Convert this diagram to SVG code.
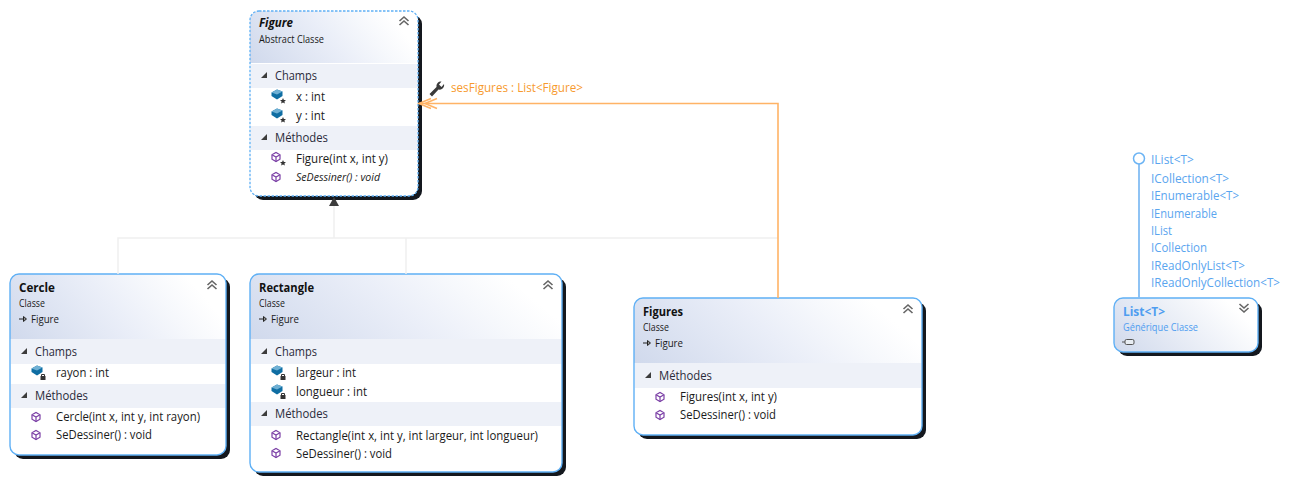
<svg xmlns="http://www.w3.org/2000/svg" width="1297" height="481" viewBox="0 0 1297 481">
<style>
text{font-family:"Open Sans","Noto Sans","Liberation Sans",sans-serif;fill:#1a1a1a;font-size:12px}
.title{font-size:13px;font-weight:700;fill:#111}
.sub{font-size:10px}
.sec{font-size:12.500px;fill:#2a2a3a}
.ital{font-style:italic;font-size:11px}
.blue{fill:#4f9df0}
.iface{fill:#5aa5ef}
.orange{fill:#f79a2e}
.shadow{fill:#14181e}
.body{fill:none;stroke:#5fb0f5;stroke-width:1.400}
.band{fill:#eef1f8}
.gen{fill:none;stroke:#f0f0f0;stroke-width:1.500}
.assoc{fill:none;stroke:#ffb366;stroke-width:1.600}
.tri{fill:#3c3c3c}
.chev{fill:none;stroke:#666;stroke-width:1.600}
.cube{fill:#fff;stroke:#7b3fa6;stroke-width:1.200}
</style>
<defs>
<linearGradient id="hdr" x1="0" y1="1" x2="1" y2="0.75"><stop offset="0" stop-color="#d0d9ec"/><stop offset="0.55" stop-color="#eaeef8"/><stop offset="0.8" stop-color="#f6f8fc"/><stop offset="1" stop-color="#ffffff"/></linearGradient>
<linearGradient id="hdrList" x1="0" y1="1" x2="1" y2="0.6"><stop offset="0" stop-color="#d0d9ec"/><stop offset="1" stop-color="#ffffff"/></linearGradient>
<g id="chevUp"><path class="chev" d="M-4.500 0L0-4L4.500 0M-4.500 4L0 0L4.500 4"/></g>
<g id="chevDown"><path class="chev" d="M-4.500-4L0 0L4.500-4M-4.500 0L0 4L4.500 0"/></g>
<path id="tog" class="tri" d="M0 4L6 4L6-2Z"/>
<g id="field"><path d="M-5.500-2.500L0-5.500L5.500-3.500L5.500 1L0 4.500L-5.500 1Z" fill="#0f6ea3"/><path d="M-5.500-2.500L0-5.500L5.500-3.500L0-.5Z" fill="#6fb0d4"/></g>
<path id="star" fill="#333" d="M0-3L.9-1L3-.9L1.400.5L1.900 2.600L0 1.500L-1.900 2.600L-1.400.5L-3-.9L-.9-1Z"/>
<g id="lock"><rect x="-2.500" y="-1" width="5" height="4" fill="#333"/><path d="M-1.500-1V-2.500H1.500V-1" fill="none" stroke="#333"/></g>
<g id="method"><path class="cube" d="M-4-2.200L0-4.500L4-2.200V2.200L0 4.500L-4 2.200Z"/><path class="cube" d="M-4-2.200L0 0L4-2.200M0 0V4.500" stroke-width="1"/></g>
<g id="inh"><path d="M0 0H7M4.500-2.500L7.500 0L4.500 2.500Z" fill="#fff" stroke="#222"/></g>
</defs>

<g id="Figure">
<rect class="shadow" x="254" y="15" width="168" height="185" rx="9"/>
<rect x="250" y="11" width="168" height="185" rx="9" fill="#fff"/>
<path d="M250 63V20a9 9 0 0 1 9-9H409a9 9 0 0 1 9 9V63Z" fill="url(#hdr)"/>
<rect class="band" x="250.700" y="64" width="167" height="24"/>
<rect class="band" x="250.700" y="126" width="167" height="24"/>
<rect x="250" y="11" width="168" height="185" rx="9" fill="none" stroke="#5fb0f5" stroke-width="1.300" stroke-dasharray="2.500 1.500"/>
<text class="title" x="259" y="27" font-style="italic" textLength="34" lengthAdjust="spacingAndGlyphs">Figure</text>
<text class="sub" x="259" y="43" textLength="65" lengthAdjust="spacingAndGlyphs">Abstract Classe</text>
<use href="#chevUp" x="404" y="21"/>
<use href="#tog" x="261" y="74"/>
<text class="sec" x="275" y="80" textLength="42" lengthAdjust="spacingAndGlyphs">Champs</text>
<use href="#field" x="277" y="95"/><use href="#star" x="283" y="101"/>
<text x="296" y="101" textLength="29" lengthAdjust="spacingAndGlyphs">x : int</text>
<use href="#field" x="277" y="114"/><use href="#star" x="283" y="120"/>
<text x="296" y="120" textLength="29" lengthAdjust="spacingAndGlyphs">y : int</text>
<use href="#tog" x="261" y="136"/>
<text class="sec" x="275" y="142" textLength="53" lengthAdjust="spacingAndGlyphs">Méthodes</text>
<use href="#method" x="276" y="157"/><use href="#star" x="283" y="163"/>
<text x="296" y="163" textLength="92" lengthAdjust="spacingAndGlyphs">Figure(int x, int y)</text>
<use href="#method" x="276" y="177"/>
<text class="ital" x="296" y="181" textLength="84" lengthAdjust="spacingAndGlyphs">SeDessiner() : void</text>
</g>

<g id="Cercle">
<rect class="shadow" x="14" y="278" width="216" height="181" rx="9"/>
<rect x="10" y="274" width="216" height="181" rx="9" fill="#fff"/>
<path d="M10 339V283a9 9 0 0 1 9-9H217a9 9 0 0 1 9 9V339Z" fill="url(#hdr)"/>
<rect class="band" x="10.700" y="339" width="215" height="25"/>
<rect class="band" x="10.700" y="384" width="215" height="24"/>
<rect class="body" x="10" y="274" width="216" height="181" rx="9"/>
<text class="title" x="19" y="292" textLength="36" lengthAdjust="spacingAndGlyphs">Cercle</text>
<text class="sub" x="19" y="307" textLength="26" lengthAdjust="spacingAndGlyphs">Classe</text>
<use href="#inh" x="19" y="319"/>
<text class="sub" x="31" y="323" textLength="28" lengthAdjust="spacingAndGlyphs">Figure</text>
<use href="#chevUp" x="212" y="285"/>
<use href="#tog" x="21" y="350"/>
<text class="sec" x="35" y="356" textLength="42" lengthAdjust="spacingAndGlyphs">Champs</text>
<use href="#field" x="37" y="371"/><use href="#lock" x="43" y="377"/>
<text x="56" y="377" textLength="53" lengthAdjust="spacingAndGlyphs">rayon : int</text>
<use href="#tog" x="21" y="394"/>
<text class="sec" x="35" y="400" textLength="53" lengthAdjust="spacingAndGlyphs">Méthodes</text>
<use href="#method" x="36" y="417"/>
<text x="56" y="421" textLength="144" lengthAdjust="spacingAndGlyphs">Cercle(int x, int y, int rayon)</text>
<use href="#method" x="36" y="435"/>
<text x="56" y="439" textLength="96" lengthAdjust="spacingAndGlyphs">SeDessiner() : void</text>
</g>

<g id="Rectangle">
<rect class="shadow" x="254" y="278" width="312" height="198" rx="9"/>
<rect x="250" y="274" width="312" height="198" rx="9" fill="#fff"/>
<path d="M250 339V283a9 9 0 0 1 9-9H553a9 9 0 0 1 9 9V339Z" fill="url(#hdr)"/>
<rect class="band" x="250.700" y="339" width="311" height="25"/>
<rect class="band" x="250.700" y="402" width="311" height="24"/>
<rect class="body" x="250" y="274" width="312" height="198" rx="9"/>
<text class="title" x="259" y="292" textLength="55" lengthAdjust="spacingAndGlyphs">Rectangle</text>
<text class="sub" x="259" y="307" textLength="26" lengthAdjust="spacingAndGlyphs">Classe</text>
<use href="#inh" x="259" y="319"/>
<text class="sub" x="271" y="323" textLength="28" lengthAdjust="spacingAndGlyphs">Figure</text>
<use href="#chevUp" x="548" y="285"/>
<use href="#tog" x="261" y="350"/>
<text class="sec" x="275" y="356" textLength="42" lengthAdjust="spacingAndGlyphs">Champs</text>
<use href="#field" x="277" y="371"/><use href="#lock" x="283" y="377"/>
<text x="296" y="377" textLength="60" lengthAdjust="spacingAndGlyphs">largeur : int</text>
<use href="#field" x="277" y="390"/><use href="#lock" x="283" y="396"/>
<text x="296" y="396" textLength="71" lengthAdjust="spacingAndGlyphs">longueur : int</text>
<use href="#tog" x="261" y="412"/>
<text class="sec" x="275" y="418" textLength="53" lengthAdjust="spacingAndGlyphs">Méthodes</text>
<use href="#method" x="276" y="435"/>
<text x="296" y="440" textLength="242" lengthAdjust="spacingAndGlyphs">Rectangle(int x, int y, int largeur, int longueur)</text>
<use href="#method" x="276" y="453"/>
<text x="296" y="458" textLength="96" lengthAdjust="spacingAndGlyphs">SeDessiner() : void</text>
</g>

<g id="Figures">
<rect class="shadow" x="638" y="302" width="288" height="137" rx="9"/>
<rect x="634" y="298" width="288" height="137" rx="9" fill="#fff"/>
<path d="M634 363V307a9 9 0 0 1 9-9H913a9 9 0 0 1 9 9V363Z" fill="url(#hdr)"/>
<rect class="band" x="634.700" y="363" width="287" height="25"/>
<rect class="body" x="634" y="298" width="288" height="137" rx="9"/>
<text class="title" x="643" y="316" textLength="40" lengthAdjust="spacingAndGlyphs">Figures</text>
<text class="sub" x="643" y="331" textLength="26" lengthAdjust="spacingAndGlyphs">Classe</text>
<use href="#inh" x="643" y="343"/>
<text class="sub" x="655" y="347" textLength="28" lengthAdjust="spacingAndGlyphs">Figure</text>
<use href="#chevUp" x="908" y="309"/>
<use href="#tog" x="645" y="374"/>
<text class="sec" x="659" y="380" textLength="53" lengthAdjust="spacingAndGlyphs">Méthodes</text>
<use href="#method" x="660" y="397"/>
<text x="680" y="401" textLength="97" lengthAdjust="spacingAndGlyphs">Figures(int x, int y)</text>
<use href="#method" x="660" y="415"/>
<text x="680" y="419" textLength="96" lengthAdjust="spacingAndGlyphs">SeDessiner() : void</text>
</g>

<g id="List">
<rect class="shadow" x="1118" y="302" width="144" height="54" rx="9"/>
<rect x="1114" y="298" width="144" height="54" rx="9" fill="url(#hdrList)" stroke="#5fb0f5" stroke-width="1.400"/>
<text class="title blue" x="1123" y="316" textLength="42" lengthAdjust="spacingAndGlyphs">List&lt;T&gt;</text>
<text class="sub blue" x="1123" y="331" textLength="75" lengthAdjust="spacingAndGlyphs">Générique Classe</text>
<use href="#chevDown" x="1244" y="308"/>
<g id="List-icon"><rect x="1125" y="339.500" width="9" height="5" rx="1.500" fill="#e8edf3" stroke="#555"/><path d="M1125 342H1122" stroke="#555"/></g>
</g>
<g id="List-interfaces">
<text class="iface" x="1151" y="164" textLength="43" lengthAdjust="spacingAndGlyphs">IList&lt;T&gt;</text>
<text class="iface" x="1151" y="183" textLength="78" lengthAdjust="spacingAndGlyphs">ICollection&lt;T&gt;</text>
<text class="iface" x="1151" y="200" textLength="88" lengthAdjust="spacingAndGlyphs">IEnumerable&lt;T&gt;</text>
<text class="iface" x="1151" y="218" textLength="66" lengthAdjust="spacingAndGlyphs">IEnumerable</text>
<text class="iface" x="1151" y="235" textLength="21" lengthAdjust="spacingAndGlyphs">IList</text>
<text class="iface" x="1151" y="252" textLength="56" lengthAdjust="spacingAndGlyphs">ICollection</text>
<text class="iface" x="1151" y="270" textLength="94" lengthAdjust="spacingAndGlyphs">IReadOnlyList&lt;T&gt;</text>
<text class="iface" x="1151" y="287" textLength="129" lengthAdjust="spacingAndGlyphs">IReadOnlyCollection&lt;T&gt;</text>
</g>

<g id="connectors">
<path class="gen" d="M334 205V238M118 274V238H778M406 238V274"/>
<path class="tri" d="M334 197L339 206H329Z"/>
<path class="assoc" d="M778 298V103.500H419"/>
<path class="assoc" d="M431 98.500L419 103.500L431 108.500M437 98.500L425 103.500L437 108.500" stroke-width="1.200"/>
<path d="M1139 163V298" fill="none" stroke="#83bdf3" stroke-width="1.800"/>
<circle cx="1139" cy="158.500" r="5.500" fill="#fff" stroke="#6cb4f4" stroke-width="1.500"/>
</g>
<g id="assoc-label">
<path d="M429.500 94L436.500 87A4.500 4.500 0 0 1 441.500 81.500L439 84.500L441.500 87L444 84A4.500 4.500 0 0 1 438.500 89.500L432 96.500Z" fill="#3a3a3a"/>
<text class="orange" x="451" y="92" textLength="132" lengthAdjust="spacingAndGlyphs">sesFigures : List&lt;Figure&gt;</text>
</g>
</svg>
